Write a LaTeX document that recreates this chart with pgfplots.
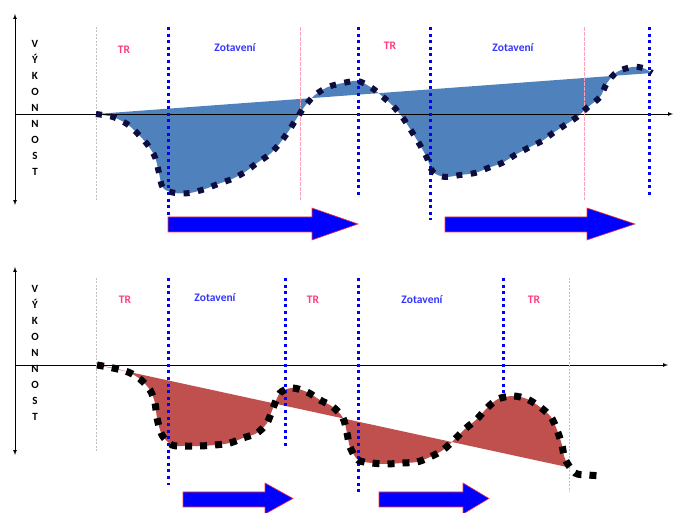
\documentclass[border=0pt]{standalone}
\usepackage{pgfplots}
\pgfplotsset{compat=1.18}
\usepackage{pgfplotstable}
\usepgfplotslibrary{fillbetween}
\usepackage{fontspec}
\setmainfont{Carlito}
\definecolor{fillblue}{HTML}{4F81BD}
\definecolor{fillred}{HTML}{C0504D}
\definecolor{navy}{HTML}{0D0D40}
\definecolor{trpink}{HTML}{FF3C82}
\definecolor{zblue}{HTML}{3535FF}
\definecolor{pinkline}{HTML}{FF9FB8}

\pgfplotstableread{
x y
96 0
113 -3
127 -10
137 -19
147 -30
155 -43
159 -59
163 -74
175 -79
190 -79
205 -75
218 -70
232 -65
245 -58
257 -49
270 -40
280 -29
288 -18
297 -4
305 8
315 19
328 27
343 31
358 33
372 26
383 17
393 8
403 -4
412 -18
420 -31
427 -44
433 -58
445 -63
460 -61
475 -59
488 -54
502 -49
515 -41
528 -34
542 -27
553 -19
565 -11
577 -3
588 7
600 17
607 31
617 42
632 47
643 46
652 41
}\topcurve

\pgfplotstableread{
x y
96 0
652 41
}\topline

\pgfplotstableread{
x y
97 0
113 -3
128 -7
140 -14
150 -25
155 -38
157 -53
162 -70
172 -80
185 -81
200 -81
215 -80
230 -78
243 -73
257 -68
267 -58
273 -43
280 -28
292 -23
307 -27
320 -35
333 -42
343 -53
347 -68
350 -82
358 -95
372 -98
387 -99
402 -98
417 -97
430 -92
443 -85
455 -74
465 -64
477 -54
487 -43
498 -34
513 -31
527 -34
540 -42
551 -52
557 -65
562 -80
565 -94
575 -108
588 -110
603 -111
}\botcurve

\pgfplotstableread{
x y
97 0
567 -102
}\botline

\tikzset{
  bdots/.style={blue, line width=3pt, dash pattern=on 3pt off 3.6pt},
  gline/.style={gray!50, line width=0.8pt, dash pattern=on 2pt off 1.5pt},
  pline/.style={pinkline, line width=0.5pt, dash pattern=on 4pt off 1pt},
  lab/.style={font=\bfseries\fontsize{11.5}{12}\selectfont},
  vlab/.style={font=\bfseries\fontsize{11}{16}\selectfont, align=center, inner sep=0pt},
}

\begin{document}
\begin{tikzpicture}
% ---------------- top panel ----------------
\begin{axis}[at={(0,258pt)}, anchor=south west, scale only axis,
  width=675pt, height=255pt, xmin=0, xmax=675, ymin=-141, ymax=114,
  hide axis, clip=false]
\draw[<->, >=latex, line width=0.7pt] (axis cs:15,-91) -- (axis cs:15,100);
\draw[->, >=latex, line width=0.7pt] (axis cs:15,0) -- (axis cs:673,0);
\node[vlab] at (axis cs:35,6) {V\\Ý\\K\\O\\N\\N\\O\\S\\T};
% dividers
\addplot[gline] coordinates {(96,87) (96,-86)};
\addplot[bdots] coordinates {(168,87) (168,-101)};
\addplot[pline] coordinates {(300,87) (300,-86)};
\addplot[bdots] coordinates {(358,87) (358,-81)};
\addplot[bdots] coordinates {(430,87) (430,-106)};
\addplot[pline] coordinates {(584,87) (584,-86)};
\addplot[bdots] coordinates {(649,87) (649,-81)};
% fill
\addplot[draw=none, smooth, name path=TC] table {\topcurve};
\addplot[draw=none, name path=TL] table {\topline};
\addplot[fillblue, draw=none] fill between[of=TC and TL];
\addplot[navy, smooth, line width=6pt, dash pattern=on 6pt off 8.5pt] table {\topcurve};
% labels
\node[lab, text=trpink] at (axis cs:124,64) {TR};
\node[lab, text=zblue] at (axis cs:235,66) {Zotavení};
\node[lab, text=trpink] at (axis cs:390,68) {TR};
\node[lab, text=zblue] at (axis cs:513,66) {Zotavení};
% block arrows
\addplot[fill=blue, draw=red!80, line width=0.6pt] coordinates {(168,-103) (312,-103) (312,-94) (358,-110) (312,-126) (312,-118) (168,-118)} -- cycle;
\addplot[fill=blue, draw=red!80, line width=0.6pt] coordinates {(445,-103) (587,-103) (587,-94) (635,-110) (587,-126) (587,-118) (445,-118)} -- cycle;
\end{axis}
% ---------------- bottom panel ----------------
\begin{axis}[at={(0,0)}, anchor=south west, scale only axis,
  width=675pt, height=258pt, xmin=0, xmax=675, ymin=-148, ymax=110,
  hide axis, clip=false]
\draw[<->, >=latex, line width=0.7pt] (axis cs:15,-90) -- (axis cs:15,98);
\draw[->, >=latex, line width=0.7pt] (axis cs:15,0) -- (axis cs:668,0);
\node[vlab] at (axis cs:35,12) {V\\Ý\\K\\O\\N\\N\\O\\S\\T};
\addplot[gline] coordinates {(96,87) (96,-87)};
\addplot[bdots] coordinates {(168,87) (168,-120)};
\addplot[bdots] coordinates {(285,87) (285,-82)};
\addplot[bdots] coordinates {(358,87) (358,-130)};
\addplot[bdots] coordinates {(503,87) (503,-28)};
\addplot[gline] coordinates {(569,87) (569,-127)};
\addplot[draw=none, smooth, name path=BC] table {\botcurve};
\addplot[draw=none, name path=BL] table {\botline};
\addplot[fillred, draw=none] fill between[of=BC and BL, soft clip={domain=97:567}];
\addplot[black, smooth, line width=7pt, dash pattern=on 7pt off 8pt] table {\botcurve};
\node[lab, text=trpink] at (axis cs:125,65) {TR};
\node[lab, text=zblue] at (axis cs:215,67) {Zotavení};
\node[lab, text=trpink] at (axis cs:313,65) {TR};
\node[lab, text=zblue] at (axis cs:422,65) {Zotavení};
\node[lab, text=trpink] at (axis cs:534,65) {TR};
\addplot[fill=blue, draw=red!80, line width=0.6pt] coordinates {(183,-127) (265,-127) (265,-118) (293,-133.5) (265,-149) (265,-142) (183,-142)} -- cycle;
\addplot[fill=blue, draw=red!80, line width=0.6pt] coordinates {(379,-127) (463,-127) (463,-118) (489,-133.5) (463,-149) (463,-142) (379,-142)} -- cycle;
\end{axis}
\pgfresetboundingbox
\useasboundingbox (0,0) rectangle (675pt,513pt);
\end{tikzpicture}
\end{document}
